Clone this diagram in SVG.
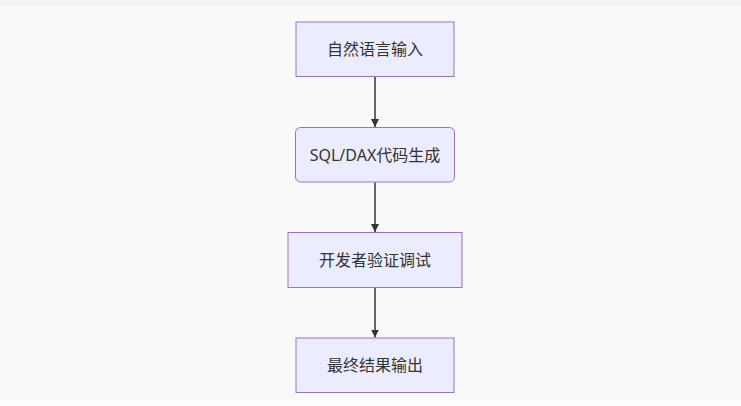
<svg xmlns="http://www.w3.org/2000/svg" width="741" height="406" viewBox="0 0 741 406">
<defs>
<style>
.node rect{fill:#ECECFF;stroke:#9370DB;stroke-width:1}
.node text{font-family:"Noto Sans","Noto Sans CJK SC",sans-serif;font-size:16px;fill:#333;text-anchor:middle;dominant-baseline:central}
.edge{stroke:#333;stroke-width:1.5;fill:none;marker-end:url(#arrow)}
</style>
<marker id="arrow" viewBox="0 0 10 10" refX="10" refY="5" markerWidth="8" markerHeight="8" markerUnits="userSpaceOnUse" orient="auto">
<path d="M0,0 L10,5 L0,10 z" fill="#333"/>
</marker>
</defs>
<rect x="0" y="0" width="741" height="406" fill="#fdfdfd"/>
<rect x="0" y="0" width="741" height="6" fill="#f2f2f2"/>
<path d="M0,6 H741 V400 H3 Q0,400 0,397 Z" fill="#f9f9f9"/>
<g id="edges">
<path class="edge" d="M375,77 L375,127"/>
<path class="edge" d="M375,182.5 L375,232"/>
<path class="edge" d="M375,288 L375,337.5"/>
</g>
<g id="n1" class="node"><rect x="296" y="22" width="158" height="54.5"/><text x="375" y="49">自然语言输入</text></g>
<g id="n2" class="node"><rect x="295.5" y="127.5" width="159" height="54.5" rx="5" ry="5"/><text x="375" y="155">SQL/DAX代码生成</text></g>
<g id="n3" class="node"><rect x="288" y="232.5" width="174" height="55"/><text x="375" y="260">开发者验证调试</text></g>
<g id="n4" class="node"><rect x="296" y="338" width="158" height="54.5"/><text x="375" y="365">最终结果输出</text></g>
</svg>
